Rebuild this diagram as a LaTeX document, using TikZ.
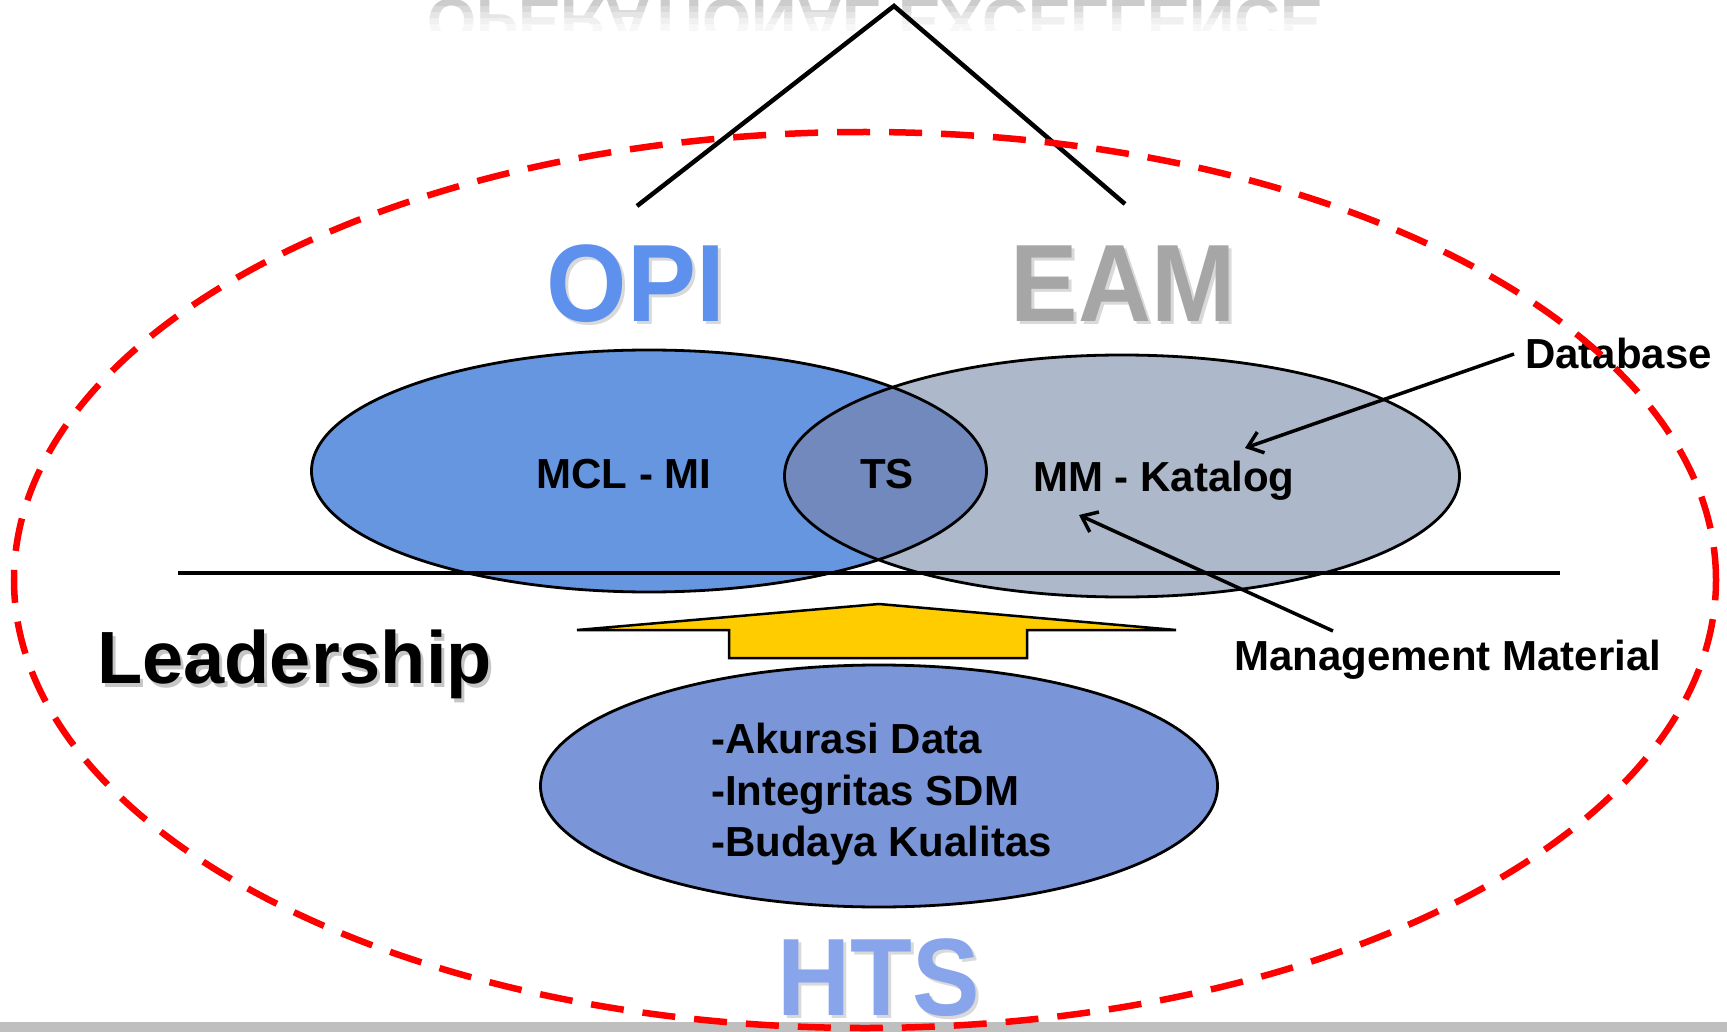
\documentclass[tikz,border=0pt]{standalone}
\usepackage{fontspec}
\setmainfont{Liberation Sans}
\usepackage{graphicx}
\usetikzlibrary{shapes.geometric,arrows.meta}
\definecolor{blueE}{HTML}{6596DF}
\definecolor{grayE}{HTML}{ADB8CA}
\definecolor{overlapE}{HTML}{7189BC}
\definecolor{htsE}{HTML}{7A96D8}
\definecolor{arrowY}{HTML}{FFCC00}
\definecolor{opiC}{HTML}{5E90EE}
\definecolor{eamC}{HTML}{A6A6A6}
\definecolor{htsC}{HTML}{88A4EA}
\definecolor{stripC}{HTML}{BFBFBF}
\begin{document}
\begin{tikzpicture}[x=1pt,y=-1pt,
  lbl/.style={font=\fontsize{42}{50}\selectfont\bfseries, inner sep=0pt},
  bigword/.style={font=\fontsize{110}{120}\selectfont\bfseries, inner sep=0pt},
  ellfill/.style={ellipse, inner sep=0pt, minimum width=675, minimum height=242},
  outline/.style={line width=2.8pt, black},
  connector/.style={line width=3.5pt, -{Straight Barb[length=14pt,width=22pt,line width=3.5pt]}},
  refl/.style={anchor=base west, inner sep=0pt, font=\fontsize{63}{63}\selectfont\bfseries}]
\useasboundingbox (0,0) rectangle (1727,1032);
\fill[white] (0,0) rectangle (1727,1032);

% faded reflection of the title
\foreach \ya/\yb/\c/\n in {0/7/20/a, 7/13/15/b, 13/19/10/c, 19/25/6/d, 25/31/3/e} {
  \begin{scope}
    \clip (0,\ya) rectangle (1727,\yb);
    \node[refl, text=black!\c] (refl\n) at (427,0) {\scalebox{1}[-1]{OPERATIONAL EXCELLENCE}};
  \end{scope}
}

% bottom grey strip
\fill[stripC] (0,1022) rectangle (1727,1032);

% triangle lines
\coordinate (apex) at (894,6);
\coordinate (tl) at (637,206);
\coordinate (tr) at (1125,204);
\draw[line width=4.5pt] (tl) -- (apex) -- (tr);

% big words
\node[bigword, text=gray!30, anchor=base] (opis) at (639,325) {\scalebox{0.94}[1]{OPI}};
\node[bigword, text=opiC, anchor=base] (opi) at (636,322) {\scalebox{0.94}[1]{OPI}};
\node[bigword, text=gray!30, anchor=base] (eams) at (1126,325) {\scalebox{0.92}[1]{EAM}};
\node[bigword, text=eamC, anchor=base] (eam) at (1123,322) {\scalebox{0.92}[1]{EAM}};
\node[bigword, text=gray!30, anchor=base] (htss) at (882,1018) {\scalebox{0.92}[1]{HTS}};
\node[bigword, text=htsC, anchor=base] (hts) at (879,1015) {\scalebox{0.92}[1]{HTS}};

% venn ellipses
\node[ellfill, fill=blueE] (mcl) at (649,471) {};
\node[ellfill, fill=grayE] (mm) at (1122,476) {};
\begin{scope}
  \clip (649,471) ellipse [x radius=337.5, y radius=121];
  \fill[overlapE] (1122,476) ellipse [x radius=337.5, y radius=121];
\end{scope}
\draw[outline] (mcl.center) ellipse [x radius=337.5, y radius=121];
\draw[outline] (mm.center) ellipse [x radius=337.5, y radius=121];

\node[lbl, anchor=base] (t1) at (624,488) {MCL - MI};
\node[lbl, anchor=base] (t2) at (887,488) {TS};
\node[lbl, anchor=base west] (t3) at (1033,491) {MM - Katalog};

% horizontal line
\coordinate (hl) at (178,573);
\coordinate (hr) at (1560,573);
\draw[line width=4.5pt] (hl) -- (hr);

% yellow arrow
\draw[fill=arrowY, line width=2.5pt, line join=miter]
  (577,630) -- (879,604) -- (1176,630) -- (1027,630) -- (1027,658)
  -- (729,658) -- (729,630) -- cycle;

% HTS ellipse
\node[ellfill, fill=htsE, draw=black, line width=2.8pt, minimum width=677] (htsell) at (879,786) {};
\node[lbl, anchor=base west] (h1) at (711,753) {-Akurasi Data};
\node[lbl, anchor=base west] (h2) at (711,805) {-Integritas SDM};
\node[lbl, anchor=base west] (h3) at (711,856) {-Budaya Kualitas};

% Leadership
\node[anchor=base west, inner sep=0pt, font=\fontsize{74}{80}\selectfont\bfseries, text=gray!45] (leads) at (100,687) {Leadership};
\node[anchor=base west, inner sep=0pt, font=\fontsize{74}{80}\selectfont\bfseries, text=black] (lead) at (97,683) {Leadership};

% side labels and arrows
\node[lbl, anchor=base west] (db) at (1525,368) {Database};
\node[lbl, anchor=base west] (mmat) at (1234,670) {Management Material};
\coordinate (dbtail) at (1514,354);
\coordinate (dbtip) at (1245,448);
\coordinate (mttail) at (1333,631);
\coordinate (mttip) at (1079,515);
\draw[connector] (dbtail) -- (dbtip);
\draw[connector] (mttail) -- (mttip);

% red dashed frame
\node[draw=red, ellipse, line width=6.5pt, dash pattern=on 33pt off 19pt,
      minimum width=1702, minimum height=896, inner sep=0pt] (frame) at (865,580) {};
\end{tikzpicture}
\end{document}
